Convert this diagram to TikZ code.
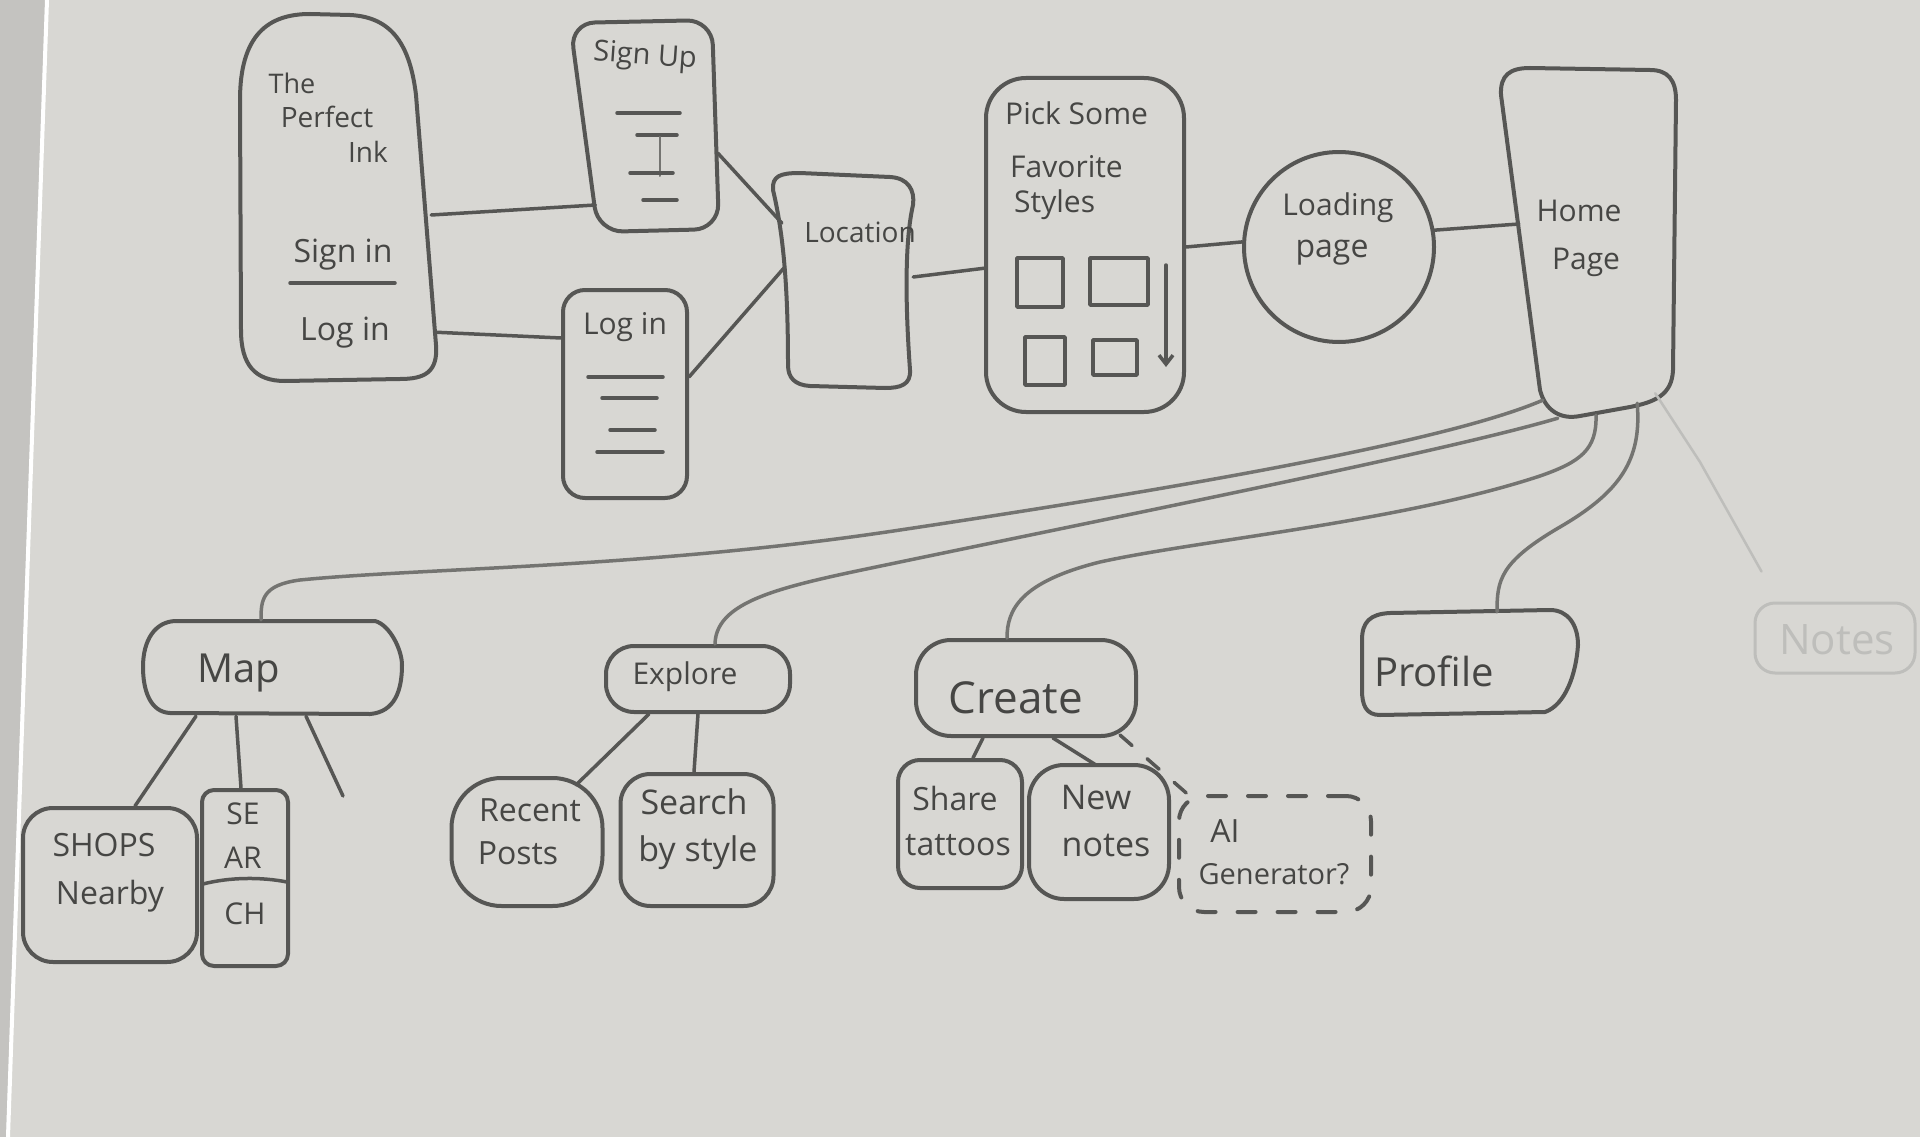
\documentclass[tikz,border=0pt]{standalone}
\usepackage{fontspec}
\setmainfont{Open Sans}
\usetikzlibrary{arrows.meta}
\definecolor{paper}{RGB}{216,215,211}
\definecolor{paperdark}{RGB}{196,195,192}
\definecolor{inkc}{RGB}{86,86,84}
\definecolor{inkl}{RGB}{116,116,113}
\definecolor{txt}{RGB}{70,70,68}
\definecolor{faint}{RGB}{190,190,187}
\begin{document}
\begin{tikzpicture}[x=1pt,y=-1pt,line cap=round,line join=round,
  holder/.style={draw=none,inner sep=0pt,minimum width=#1},
  frame/.style={draw=inkc,line width=4pt,inner sep=0pt},
  outline/.style={draw=inkc,line width=4pt},
  edge/.style={draw=inkc,line width=3.5pt},
  hedge/.style={draw=inkl,line width=3.5pt},
  deco/.style={draw=inkc,line width=3.5pt},
  fs/.style={font=\fontsize{#1}{#1}\selectfont,text=txt,inner sep=0pt}]

% paper
\useasboundingbox (0,0) rectangle (1920,1137);
\fill[paper] (0,0) rectangle (1920,1137);
\fill[paperdark] (0,0) -- (45,0) -- (6,1137) -- (0,1137) -- cycle;
\draw[white,line width=4pt] (47,0) -- (8,1137);

% ---------- top row ----------
\node[holder=196pt,minimum height=364pt] (ink) at (337,199) {};
\draw[outline] (241,330) -- (240,100) .. controls (240,35) and (268,14) .. (310,14)
  -- (350,15) .. controls (392,17) and (410,45) .. (416,95) -- (436,345)
  .. controls (438,372) and (425,379) .. (400,379) -- (285,381)
  .. controls (255,381) and (241,365) .. (241,330) -- cycle;
\node[fs=27] (tThe) at (292,83) {The};
\node[fs=28] (tPerfect) at (327,117) {Perfect};
\node[fs=28] (tInk) at (368,152) {Ink};
\node[fs=32] (tSignin) at (343,255) {Sign in};
\draw[deco] (290,283) -- (395,283);
\node[fs=32] (tLogin1) at (345,333) {Log in};

\node[holder=147pt,minimum height=210pt] (signup) at (644,126) {};
\draw[outline,rounded corners=25pt] (570,23) -- (712,20) -- (719,229) -- (598,232) -- cycle;
\node[fs=29,rotate=-4] (tSignup) at (645,57) {Sign Up};
\draw[deco] (617,113) -- (680,113);
\draw[deco] (637,135) -- (677,135);
\draw[draw=inkl,line width=2pt] (660,137) -- (660,176);
\draw[deco] (630,173) -- (673,173);
\draw[deco] (643,200) -- (677,200);

\node[frame,rounded corners=22pt,minimum width=124pt,minimum height=208pt] (login) at (625,394) {};
\node[fs=30] (tLogin2) at (625,327) {Log in};
\draw[deco] (588,377) -- (663,377);
\draw[deco] (602,398) -- (657,398);
\draw[deco] (610,430) -- (655,430);
\draw[deco] (597,452) -- (663,452);

\node[holder=142pt,minimum height=212pt] (location) at (842,280) {};
\draw[outline] (773,190) .. controls (772,176) and (780,173) .. (800,173) -- (890,177)
  .. controls (908,178) and (915,190) .. (913,205) .. controls (905,240) and (905,300) .. (910,370)
  .. controls (911,385) and (900,388) .. (885,388) -- (810,386)
  .. controls (795,385) and (788,378) .. (788,365) .. controls (788,300) and (785,240) .. (773,190) -- cycle;
\node[fs=28] (tLocation) at (860,232) {Location};

\node[frame,rounded corners=40pt,minimum width=198pt,minimum height=334pt] (pick) at (1085,245) {};
\node[fs=30,anchor=west] (tPick1) at (1005,113) {Pick Some};
\node[fs=30,anchor=west] (tPick2) at (1010,167) {Favorite};
\node[fs=30,anchor=west] (tPick3) at (1014,205) {Styles};
\draw[deco] (1017,258) rectangle (1063,307);
\draw[deco] (1090,258) rectangle (1148,305);
\draw[deco] (1025,337) rectangle (1065,385);
\draw[deco] (1093,340) rectangle (1137,375);
\draw[deco,-{Straight Barb[length=9pt,width=14pt]}] (1166,265) -- (1166,367);

\node[frame,circle,minimum size=190pt] (loading) at (1339,247) {};
\node[fs=30] (tLoading) at (1338,208) {Loading};
\node[fs=32] (tPage1) at (1332,253) {page};

\node[holder=174pt,minimum height=350pt] (home) at (1588,243) {};
\draw[outline] (1501,95) .. controls (1500,75) and (1510,68) .. (1530,68) -- (1650,70)
  .. controls (1668,70) and (1676,80) .. (1676,100) -- (1673,370)
  .. controls (1672,395) and (1655,402) .. (1630,407) -- (1580,416)
  .. controls (1560,420) and (1545,410) .. (1540,390) -- cycle;
\node[fs=30] (tHome) at (1579,211) {Home};
\node[fs=30] (tPage2) at (1586,262) {Page};

% top connectors
\draw[edge] ([xshift=-4pt,yshift=-16pt]ink.east) -- ([xshift=25pt,yshift=-79pt]signup.west);
\draw[edge] ([yshift=49pt]ink.south east) -- ([yshift=56pt]login.west);
\draw[edge] ([yshift=-27pt]signup.east) -- ([xshift=11pt,yshift=57pt]location.west);
\draw[edge] ([yshift=17pt]login.east) -- ([xshift=14pt,yshift=13pt]location.west);
\draw[edge] ([yshift=3pt]location.east) -- ([xshift=2pt,yshift=-23pt]pick.west);
\draw[edge] ([yshift=-2pt]pick.east) -- (loading.177);
\draw[edge] (loading.10) -- ([xshift=18pt,yshift=19pt]home.west);

% ---------- bottom row ----------
\node[holder=259pt,minimum height=96pt] (map) at (272,668) {};
\draw[outline] (175,621) -- (375,621) .. controls (390,625) and (402,650) .. (402,665)
  .. controls (402,690) and (395,712) .. (370,714) -- (170,713)
  .. controls (150,712) and (143,690) .. (143,667) .. controls (143,640) and (155,622) .. (175,621) -- cycle;
\node[fs=40] (tMap) at (239,673) {Map};

\node[frame,rounded corners=30pt,minimum width=174pt,minimum height=154pt] (shops) at (110,885) {};
\node[fs=32] (tShops) at (104,845) {SHOPS};
\node[fs=32] (tNearby) at (110,896) {Nearby};

\node[frame,rounded corners=12pt,minimum width=86pt,minimum height=176pt] (search) at (245,878) {};
\node[fs=30] (tSE) at (243,814) {SE};
\node[fs=30] (tAR) at (243,858) {AR};
\draw[deco] (203,884) .. controls (230,877) and (262,877) .. (287,882);
\node[fs=30] (tCH) at (245,914) {CH};
\coordinate (mapdangle) at (343,796);

\draw[edge] ([xshift=-76pt]map.south) -- ([xshift=25pt]shops.north);
\draw[edge] ([xshift=-36pt]map.south) -- ([xshift=-4pt]search.north);
\draw[edge] ([xshift=34pt]map.south) -- (mapdangle);

\node[frame,rounded corners=28pt,minimum width=184pt,minimum height=66pt] (explore) at (698,679) {};
\node[fs=30] (tExplore) at (685,677) {Explore};
\node[frame,rounded corners=50pt,minimum width=151pt,minimum height=128pt] (recent) at (527,842) {};
\node[fs=32] (tRecent) at (530,810) {Recent};
\node[fs=32] (tPosts) at (518,853) {Posts};
\node[frame,rounded corners=30pt,minimum width=153pt,minimum height=132pt] (sbs) at (697,840) {};
\node[fs=34] (tSearch) at (694,802) {Search};
\node[fs=34] (tByStyle) at (698,853) {by style};
\draw[edge] ([xshift=-49pt]explore.south) -- ([xshift=49pt,yshift=-9pt]recent.north);
\draw[edge] (explore.south) -- ([xshift=-3pt]sbs.north);

\node[frame,rounded corners=35pt,minimum width=220pt,minimum height=96pt] (create) at (1026,688) {};
\node[fs=44] (tCreate) at (1016,698) {Create};
\node[frame,rounded corners=22pt,minimum width=124pt,minimum height=128pt] (share) at (960,824) {};
\node[fs=32] (tShare) at (955,798) {Share};
\node[fs=32] (tTattoos) at (958,845) {tattoos};
\node[frame,rounded corners=35pt,minimum width=140pt,minimum height=134pt] (newnotes) at (1099,832) {};
\node[fs=34] (tNew) at (1096,798) {New};
\node[fs=34] (tNotes1) at (1106,845) {notes};
\node[frame,dashed,dash pattern=on 18pt off 22pt,rounded corners=25pt,minimum width=192pt,minimum height=116pt] (ai) at (1275,854) {};
\node[fs=32] (tAI) at (1225,831) {AI};
\node[fs=29] (tGen) at (1274,874) {Generator?};
\draw[edge] ([xshift=-43pt]create.south) -- ([xshift=13pt]share.north);
\draw[edge] ([xshift=27pt]create.south) -- ([xshift=-3pt,yshift=-2pt]newnotes.north);
\draw[edge,dashed,dash pattern=on 16pt off 20pt] ([xshift=94pt,yshift=3pt]create.south) -- ([xshift=15pt,yshift=-4pt]ai.north west);

\node[holder=216pt,minimum height=102pt] (profile) at (1468,663) {};
\draw[outline] (1362,640) .. controls (1362,622) and (1370,614) .. (1390,613) -- (1550,610)
  .. controls (1568,610) and (1578,625) .. (1578,645) .. controls (1576,675) and (1565,705) .. (1545,712)
  -- (1380,715) .. controls (1366,715) and (1362,705) .. (1362,690) -- cycle;
\node[fs=40] (tProfile) at (1434,671) {Profile};

\node[draw=faint,line width=3pt,rounded corners=20pt,inner sep=0pt,minimum width=160pt,minimum height=70pt] (notes) at (1835,638) {};
\node[fs=42,text=faint] (tNotes2) at (1837,640) {Notes};

% connectors from Home
\draw[hedge] ([xshift=42pt,yshift=18pt]home.south west) .. controls (1450,440) and (1200,485) .. (900,530)
  .. controls (650,568) and (420,568) .. (300,580) .. controls (262,585) and (261,600) .. ([xshift=-11pt]map.north);
\draw[hedge] ([xshift=57pt]home.south west) .. controls (1450,450) and (1150,510) .. (900,562)
  .. controls (790,585) and (716,598) .. ([xshift=17pt]explore.north);
\draw[hedge] ([xshift=8pt,yshift=3pt]home.south) .. controls (1597,450) and (1580,462) .. (1540,476)
  .. controls (1400,522) and (1200,540) .. (1100,562) .. controls (1020,582) and (1007,610) .. ([xshift=-19pt]create.north);
\draw[hedge] ([xshift=-38pt,yshift=15pt]home.south east) .. controls (1642,460) and (1620,492) .. (1560,527)
  .. controls (1500,562) and (1497,580) .. ([xshift=29pt]profile.north);
\draw[draw=faint,line width=2.5pt] ([xshift=-20pt,yshift=25pt]home.south east) -- (1700,462) -- ([xshift=8pt,yshift=30pt]notes.north west);
\end{tikzpicture}
\end{document}
